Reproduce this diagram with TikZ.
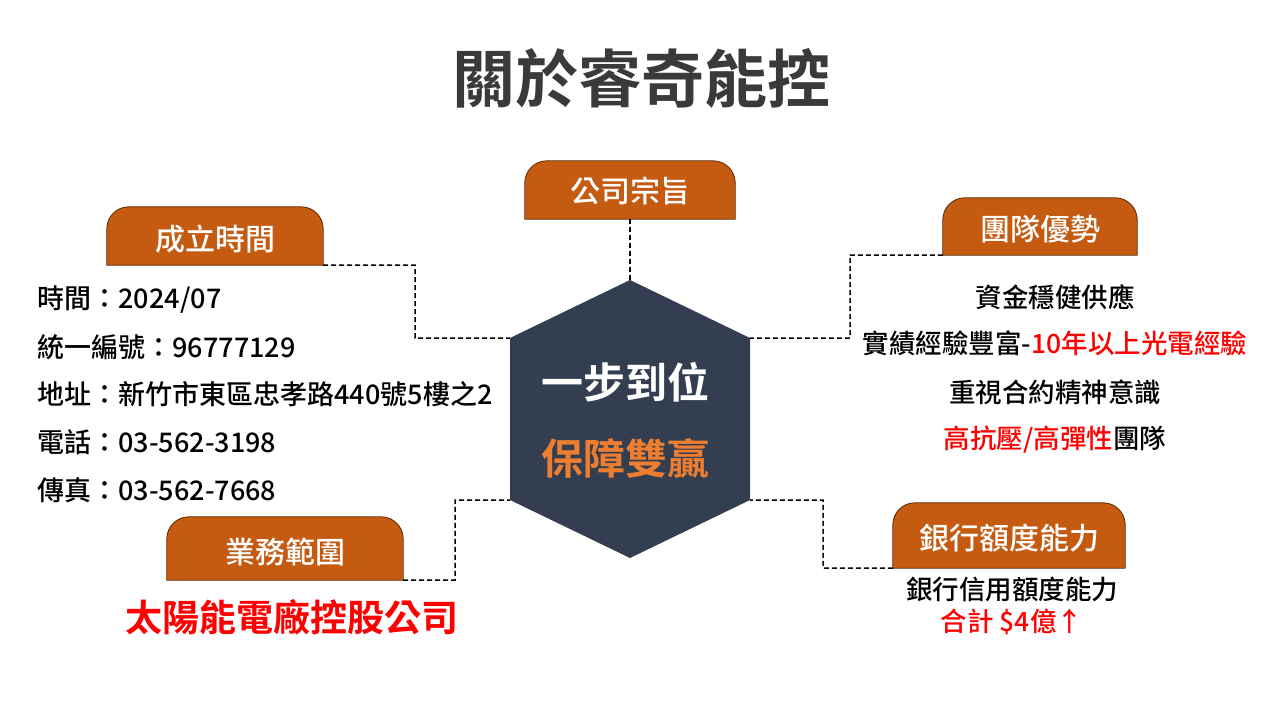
\documentclass[tikz,border=0pt]{standalone}
\usepackage{fontspec}
\setmainfont{Noto Sans CJK TC}
\newfontfamily\cjkb[BoldFont={Noto Sans CJK TC Bold}]{Noto Sans CJK TC Medium}
\definecolor{tabc}{HTML}{C55A11}
\definecolor{tabb}{HTML}{5A2A08}
\definecolor{hexc}{HTML}{333F50}
\definecolor{orn}{HTML}{ED7D31}
\definecolor{ttl}{HTML}{3A3A3A}
\definecolor{rd}{HTML}{FF0000}
\begin{document}
\begin{tikzpicture}[x=1pt,y=-1pt,
  tab/.style={minimum width=#1, minimum height=58pt, inner sep=0pt},
  tabtxt/.style={text=white, font=\fontsize{30}{30}\selectfont\cjkb},
  tabshape/.style={fill=tabc, draw=tabb, line width=0.8pt},
  conn/.style={line width=1.5pt, dash pattern=on 5pt off 3pt},
  info/.style={anchor=west, font=\fontsize{27}{27}\selectfont\cjkb},
  rt/.style={font=\fontsize{26.5}{26.5}\selectfont\cjkb}]
\useasboundingbox (0,0) rectangle (1280,720);
\node[font=\fontsize{63}{63}\selectfont\cjkb\bfseries, text=ttl] (title) at (641,78) {關於睿奇能控};
% tab frames
\node[tab=210pt] (t1) at (630,190) {};
\node[tab=216pt] (t2) at (215,236) {};
\node[tab=194pt, minimum height=57pt] (t3) at (1040,226.5) {};
\node[tab=236pt, minimum height=63pt] (t4) at (285,548.5) {};
\node[tab=232pt, minimum height=65pt] (t5) at (1009,535.5) {};
\foreach \n in {t1,t2,t3,t4,t5}{
  \draw[tabshape] (\n.south west) [rounded corners=22pt]-- (\n.north west) -- (\n.north east) [sharp corners]-- (\n.south east) -- cycle;
}
\node[tabtxt] (n1) at ([yshift=-1pt]t1) {公司宗旨};
\node[tabtxt] (n2) at ([yshift=-3pt]t2) {成立時間};
\node[tabtxt] (n3) at ([yshift=-3pt]t3) {團隊優勢};
\node[tabtxt] (n4) at ([yshift=-3pt]t4) {業務範圍};
\node[tabtxt] (n5) at ([yshift=-3pt]t5) {銀行額度能力};
% hexagon
\coordinate (ht) at (630,280);
\coordinate (hur) at (750,338);
\coordinate (hlr) at (750,500);
\coordinate (hb) at (630,558);
\coordinate (hll) at (510,500);
\coordinate (hul) at (510,338);
\fill[hexc] (ht) -- (hur) -- (hlr) -- (hb) -- (hll) -- (hul) -- cycle;
\node[text=white, font=\fontsize{42}{42}\selectfont\cjkb\bfseries] (h1) at (625,382) {一步到位};
\node[text=orn, font=\fontsize{42}{42}\selectfont\cjkb\bfseries] (h2) at (625,458) {保障雙贏};
% connectors
\draw[conn] (t1.south) -- (ht);
\draw[conn] (t2.south east) -- (415,265) -- (415,338) -- (hul);
\draw[conn] (t3.south west) -- (850,255) -- (850,338) -- (hur);
\draw[conn] (t4.south east) -- (455,580) -- (455,500) -- (hll);
\draw[conn] (t5.south west) -- (823,568) -- (823,500) -- (hlr);
% left info
\node[info] (l1) at (34,300) {時間：2024/07};
\node[info] (l2) at (34,347) {統一編號：96777129};
\node[info] (l3) at (34,394) {地址：新竹市東區忠孝路440號5樓之2};
\node[info] (l4) at (34,442) {電話：03-562-3198};
\node[info] (l5) at (34,490) {傳真：03-562-7668};
\node[text=rd, font=\fontsize{37}{37}\selectfont\cjkb\bfseries] (biz) at (292,617) {太陽能電廠控股公司};
% right info
\node[rt] (r1) at (1055,297) {資金穩健供應};
\node[rt] (r2) at (1055,343) {實績經驗豐富-\textcolor{rd}{10年以上光電經驗}};
\node[rt] (r3) at (1055,392) {重視合約精神意識};
\node[rt] (r4) at (1055,440) {\textcolor{rd}{高抗壓/高彈性}團隊};
\node[rt] (b1) at (1012,589) {銀行信用額度能力};
\node[rt, text=rd] (b2) at (1012,622) {合計 \$4億↑};
\end{tikzpicture}
\end{document}
